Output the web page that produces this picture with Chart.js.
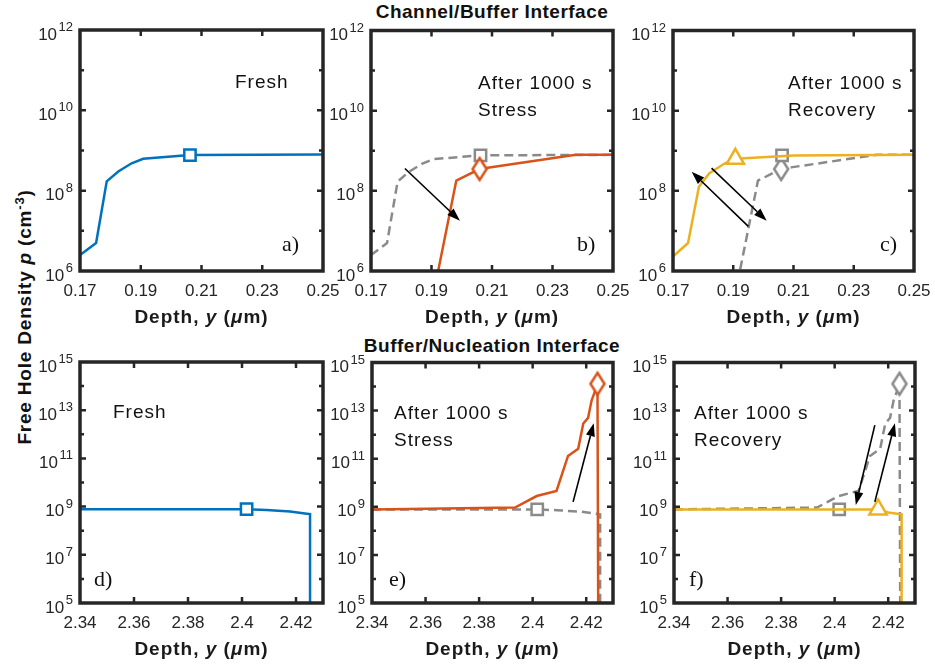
<!DOCTYPE html>
<html>
<head>
<meta charset="utf-8">
<script src="https://cdn.jsdelivr.net/npm/chart.js@4.4.1/dist/chart.umd.min.js"></script>
<style>
  body { margin: 0; width: 935px; height: 667px; overflow: hidden; background: #fff; position: relative;
         font-family: "Liberation Sans", Arial, sans-serif; color: #111; }
  canvas { position: absolute; }
  .ttl { position: absolute; font-weight: bold; font-size: 19px; white-space: nowrap; letter-spacing: 0.5px;
         transform: translate(-50%, -50%); }
  .ttl sup { font-size: 13px; }
</style>
</head>
<body>
<div class="ttl" style="left:492px;top:12px">Channel/Buffer Interface</div>
<div class="ttl" style="left:492px;top:346px">Buffer/Nucleation Interface</div>
<div class="ttl" style="left:24px;top:317px;letter-spacing:0.8px;transform:translate(-50%,-50%) rotate(-90deg)">Free Hole Density <i>p</i> (cm<sup>-3</sup>)</div>

<canvas id="pa"></canvas><canvas id="pb"></canvas><canvas id="pc"></canvas>
<canvas id="pd"></canvas><canvas id="pe"></canvas><canvas id="pf"></canvas>

<script>
// ---- data (depth in um, hole density in cm^-3) ----
// channel/buffer interface
const freshTopX  = [0.17, 0.1753, 0.1788, 0.1826, 0.187, 0.1908, 0.2062, 0.25];
const freshTopP  = [2.5e6, 5e6, 1.7e8, 3e8, 4.8e8, 6.2e8, 7.7e8, 7.9e8];
const stressTopX = [0.1914, 0.1922, 0.1982, 0.202, 0.2059, 0.2097, 0.2377, 0.25];
const stressTopP = [5e5, 1e6, 1.8e8, 2.5e8, 3.5e8, 3.9e8, 7.9e8, 7.9e8];
const recovTopX  = [0.17, 0.175, 0.1786, 0.182, 0.1871, 0.1907, 0.21, 0.25];
const recovTopP  = [2.3e6, 5e6, 1.26e8, 2.7e8, 4.8e8, 6.3e8, 7.6e8, 7.9e8];

// buffer/nucleation interface
const freshBotX  = [2.34, 2.4017, 2.4091, 2.4178, 2.4233, 2.4252, 2.4252];
const freshBotP  = [7.8e8, 7.8e8, 7.2e8, 6.3e8, 5.2e8, 4.9e8, 1e4];
const stressBotX = [2.34, 2.3934, 2.4015, 2.4089, 2.4132, 2.417, 2.4189, 2.4207, 2.422, 2.4236, 2.4242, 2.4245];
const stressBotP = [7.8e8, 9.3e8, 2.8e9, 4.6e9, 1.3e11, 2.6e11, 2.9e12, 5e12, 2.6e13, 8e13, 1.3e14, 1e4];
const recovBotX  = [2.34, 2.4162, 2.4206, 2.425, 2.425];
const recovBotP  = [7.8e8, 7.8e8, 5.6e8, 4.9e8, 1e4];

// marker points: fresh (square), stress (diamond), recovery (triangle)
const markTopX = [0.2062, 0.2059, 0.1907];
const markTopP = [7.7e8, 3.5e8, 6.3e8];
const markBotX = [2.4017, 2.4242, 2.4162];
const markBotP = [7.8e8, 1.3e14, 7.8e8];

// axes
const xTicksTop = [0.17, 0.19, 0.21, 0.23, 0.25];
const xTicksBot = [2.34, 2.36, 2.38, 2.4, 2.42];
const yTicksTop = [1e6, 1e7, 1e8, 1e9, 1e10, 1e11, 1e12];
const yLabelsTop = [6, 8, 10, 12];
const yTicksBot = [1e5, 1e6, 1e7, 1e8, 1e9, 1e10, 1e11, 1e12, 1e13, 1e14, 1e15];
const yLabelsBot = [5, 7, 9, 11, 13, 15];

// arrows [x0, p0, x1, p1]
const arrowsB = [[0.1812, 3.6e8, 0.1994, 1.8e7]];
const arrowsC = [[0.195, 1.3e7, 0.1762, 3e8], [0.1828, 3.7e8, 0.2011, 1.8e7]];
const arrowsE = [[2.4151, 1.6e9, 2.4228, 3e12]];
const arrowsF = [[2.415, 2.5e12, 2.4079, 1.2e9], [2.415, 1.6e9, 2.4225, 3e12]];

// ---- styling ----
const BLUE = '#0072BD', ORANGE = '#D95319', YELLOW = '#EDB120', GRAY = '#8a8a8a', AX = '#262626';
const SANS = '"Liberation Sans", Arial, sans-serif';

// MATLAB-like tall diamond marker
function diamond(color) {
  const c = document.createElement('canvas');
  c.width = 20; c.height = 28;
  const g = c.getContext('2d');
  g.fillStyle = '#fff'; g.strokeStyle = color; g.lineWidth = 2.5;
  g.beginPath();
  g.moveTo(10, 3); g.lineTo(17, 14); g.lineTo(10, 25); g.lineTo(3, 14); g.closePath();
  g.fill(); g.stroke();
  return c;
}

function line(xs, ps, color, dashed) {
  return {
    data: xs.map((v, i) => ({ x: v, y: ps[i] })),
    borderColor: color, borderWidth: 2.5, borderDash: dashed ? [9, 5] : [],
    pointRadius: 0, tension: 0, fill: false
  };
}
function marker(xs, ps, i, color, style, r) {
  return {
    data: [{ x: xs[i], y: ps[i] }], showLine: false,
    pointStyle: style, pointRadius: r, pointBorderColor: color,
    pointBackgroundColor: '#fff', pointBorderWidth: 2.5
  };
}

const decor = {
  id: 'decor',
  afterDatasetsDraw(chart, args, o) {
    const { ctx, chartArea: a } = chart;
    const x = chart.scales.x, y = chart.scales.y;
    ctx.save();

    // arrows
    ctx.strokeStyle = '#000'; ctx.fillStyle = '#000'; ctx.lineWidth = 1.6;
    for (const [x0, p0, x1, p1] of o.arrows) {
      const X0 = x.getPixelForValue(x0), Y0 = y.getPixelForValue(p0);
      const X1 = x.getPixelForValue(x1), Y1 = y.getPixelForValue(p1);
      const ang = Math.atan2(Y1 - Y0, X1 - X0), L = 13, w = 4.5;
      const bx = X1 - L * Math.cos(ang), by = Y1 - L * Math.sin(ang);
      ctx.beginPath(); ctx.moveTo(X0, Y0); ctx.lineTo(bx, by); ctx.stroke();
      ctx.beginPath();
      ctx.moveTo(X1, Y1);
      ctx.lineTo(bx - w * Math.sin(ang), by + w * Math.cos(ang));
      ctx.lineTo(bx + w * Math.sin(ang), by - w * Math.cos(ang));
      ctx.closePath(); ctx.fill();
    }

    // box
    ctx.strokeStyle = AX; ctx.lineWidth = 3.5;
    ctx.strokeRect(a.left, a.top, a.right - a.left, a.bottom - a.top);

    // inward ticks
    ctx.lineWidth = 2.5;
    ctx.beginPath();
    x.ticks.forEach(t => {
      const px = x.getPixelForValue(t.value);
      if (px < a.left + 3 || px > a.right - 3) return;
      ctx.moveTo(px, a.bottom); ctx.lineTo(px, a.bottom - 6);
      ctx.moveTo(px, a.top); ctx.lineTo(px, a.top + 6);
    });
    y.ticks.forEach(t => {
      const py = y.getPixelForValue(t.value);
      if (py < a.top + 3 || py > a.bottom - 3) return;
      const e = Math.round(Math.log10(t.value));
      const len = o.labels.includes(e) ? 6 : 4;
      ctx.moveTo(a.left, py); ctx.lineTo(a.left + len, py);
      ctx.moveTo(a.right, py); ctx.lineTo(a.right - len, py);
    });
    ctx.stroke();

    // y tick labels 10^n
    ctx.fillStyle = AX; ctx.textAlign = 'right'; ctx.textBaseline = 'alphabetic';
    y.ticks.forEach(t => {
      const e = Math.round(Math.log10(t.value));
      if (!o.labels.includes(e)) return;
      const py = y.getPixelForValue(t.value);
      ctx.font = '13px ' + SANS;
      const ew = ctx.measureText(String(e)).width;
      ctx.fillText(String(e), a.left - 7, py + 1);
      ctx.font = '17px ' + SANS;
      ctx.fillText('10', a.left - 8.5 - ew, py + 9.5);
    });

    // x axis title
    ctx.letterSpacing = '1px';
    const parts = [['Depth, ', 'bold'], ['y', 'italic bold'], [' (', 'bold'], ['\u03bc', 'italic bold'], ['m)', 'bold']];
    let total = 0;
    parts.forEach(p => { ctx.font = p[1] + ' 19px ' + SANS; total += ctx.measureText(p[0]).width; });
    let cx = (a.left + a.right) / 2 - total / 2;
    ctx.textAlign = 'left'; ctx.textBaseline = 'middle'; ctx.fillStyle = '#1a1a1a';
    parts.forEach(p => {
      ctx.font = p[1] + ' 19px ' + SANS;
      ctx.fillText(p[0], cx, a.bottom + 47);
      cx += ctx.measureText(p[0]).width;
    });

    // annotations
    ctx.fillStyle = '#111';
    ctx.font = '19px ' + SANS;
    o.texts.forEach(([s, dx, dy]) => ctx.fillText(s, a.left + dx, a.top + dy));
    ctx.letterSpacing = '0px';
    ctx.font = '22px "Liberation Serif", "Times New Roman", serif';
    ctx.fillText(o.tag[0], a.left + o.tag[1], a.top + o.tag[2]);
    ctx.restore();
  }
};

function panel(id, p) {
  const [L, T, W, H] = p.rect;
  const cv = document.getElementById(id);
  cv.width = W + 80; cv.height = H + 72;
  cv.style.left = (L - 50) + 'px'; cv.style.top = (T - 12) + 'px';
  new Chart(cv, {
    type: 'line',
    data: { datasets: p.datasets },
    plugins: [decor],
    options: {
      responsive: false, animation: false, events: [],
      layout: { padding: { left: 0, right: 30, top: 12, bottom: 0 } },
      plugins: { legend: { display: false }, tooltip: { enabled: false },
                 decor: { arrows: p.arrows, texts: p.texts, tag: p.tag, labels: p.yl } },
      scales: {
        x: {
          type: 'linear', min: p.xr[0], max: p.xr[1],
          grid: { display: false, drawTicks: false }, border: { display: false },
          afterBuildTicks: s => { s.ticks = p.xt.map(v => ({ value: v })); },
          afterFit: s => { s.height = 60; },
          ticks: { padding: 10, color: AX, font: { family: SANS, size: 17 },
                   maxRotation: 0, autoSkip: false, callback: v => String(+v.toFixed(2)) }
        },
        y: {
          type: 'logarithmic', min: p.yr[0], max: p.yr[1],
          grid: { display: false, drawTicks: false }, border: { display: false },
          afterBuildTicks: s => { s.ticks = p.yt.map(v => ({ value: v })); },
          afterFit: s => { s.width = 50; },
          ticks: { display: false }
        }
      }
    }
  });
}

const top0 = { xr: [0.17, 0.25], yr: [1e6, 1e12], xt: xTicksTop, yt: yTicksTop, yl: yLabelsTop };
const bot0 = { xr: [2.34, 2.43], yr: [1e5, 1e15], xt: xTicksBot, yt: yTicksBot, yl: yLabelsBot };

panel('pa', { ...top0, rect: [80, 30, 243, 241],
  datasets: [marker(markTopX, markTopP, 0, BLUE, 'rect', 8), line(freshTopX, freshTopP, BLUE)],
  arrows: [], texts: [['Fresh', 155, 53]], tag: ['a)', 202, 215] });

panel('pb', { ...top0, rect: [371, 30, 242, 241],
  datasets: [marker(markTopX, markTopP, 1, ORANGE, diamond(ORANGE), 10), line(stressTopX, stressTopP, ORANGE),
             marker(markTopX, markTopP, 0, GRAY, 'rect', 8), line(freshTopX, freshTopP, GRAY, true)],
  arrows: arrowsB, texts: [['After 1000 s', 107, 53], ['Stress', 107, 80]], tag: ['b)', 206, 215] });

panel('pc', { ...top0, rect: [673, 30, 241, 241],
  datasets: [marker(markTopX, markTopP, 2, YELLOW, 'triangle', 10), line(recovTopX, recovTopP, YELLOW),
             marker(markTopX, markTopP, 0, GRAY, 'rect', 8), marker(markTopX, markTopP, 1, GRAY, diamond(GRAY), 10),
             line(stressTopX, stressTopP, GRAY, true)],
  arrows: arrowsC, texts: [['After 1000 s', 115, 53], ['Recovery', 115, 80]], tag: ['c)', 207, 215] });

panel('pd', { ...bot0, rect: [80, 362, 243, 241],
  datasets: [marker(markBotX, markBotP, 0, BLUE, 'rect', 8), line(freshBotX, freshBotP, BLUE)],
  arrows: [], texts: [['Fresh', 33, 51]], tag: ['d)', 14, 218] });

panel('pe', { ...bot0, rect: [372, 362, 241, 241],
  datasets: [marker(markBotX, markBotP, 1, ORANGE, diamond(ORANGE), 10), line(stressBotX, stressBotP, ORANGE),
             marker(markBotX, markBotP, 0, GRAY, 'rect', 8), line(freshBotX, freshBotP, GRAY, true)],
  arrows: arrowsE, texts: [['After 1000 s', 22, 51], ['Stress', 22, 78]], tag: ['e)', 17, 218] });

panel('pf', { ...bot0, rect: [674, 362, 241, 241],
  datasets: [marker(markBotX, markBotP, 2, YELLOW, 'triangle', 10), line(recovBotX, recovBotP, YELLOW),
             marker(markBotX, markBotP, 0, GRAY, 'rect', 8), marker(markBotX, markBotP, 1, GRAY, diamond(GRAY), 10),
             line(stressBotX, stressBotP, GRAY, true)],
  arrows: arrowsF, texts: [['After 1000 s', 20, 51], ['Recovery', 20, 78]], tag: ['f)', 15, 218] });
</script>
</body>
</html>
